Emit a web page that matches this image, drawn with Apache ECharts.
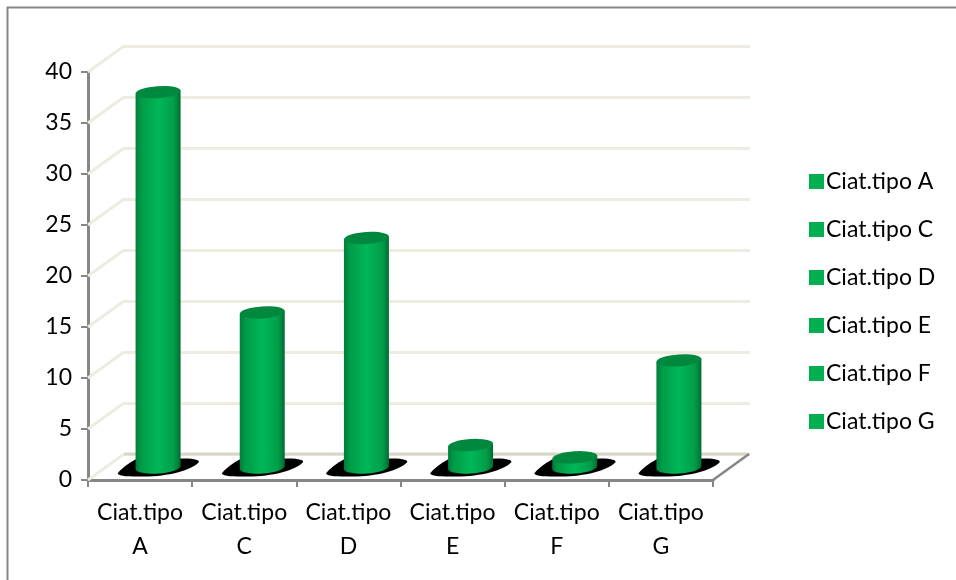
<!DOCTYPE html>
<html>
<head>
<meta charset="utf-8">
<style>html,body{margin:0;padding:0;background:#fff}#chart{width:956px;height:580px}</style>
<script src="https://cdn.jsdelivr.net/npm/echarts@6/dist/echarts.min.js"></script>
</head>
<body>
<div id="chart"></div>
<script>
// Percentages per type of ciathus
const categories = ['Ciat.tipo A', 'Ciat.tipo C', 'Ciat.tipo D', 'Ciat.tipo E', 'Ciat.tipo F', 'Ciat.tipo G'];
const axisLabels = ['Ciat.tipo\nA', 'Ciat.tipo\nC', 'Ciat.tipo\nD', 'Ciat.tipo\nE', 'Ciat.tipo\nF', 'Ciat.tipo\nG'];
const values = [36.8, 15.2, 22.5, 2.2, 1.0, 10.5];
const yTicks = [0, 5, 10, 15, 20, 25, 30, 35, 40];

// Pseudo-3D box: the back wall sits up and to the right of the front axes
const DEPTH_X = 36, DEPTH_Y = -26;
const FONT = 'Lato';
const AXIS_GREY = '#868686', WALL = '#eeece1', GREEN = '#00b050';

function renderWallEdge(params, api) {
  const p = api.coord([0, api.value(0)]);
  const left = params.coordSys.x;
  return {
    type: 'line', silent: true,
    shape: { x1: left, y1: p[1], x2: left + DEPTH_X, y2: p[1] + DEPTH_Y },
    style: { stroke: WALL, lineWidth: 3 }
  };
}

function renderFloor(params, api) {
  const r = params.coordSys;
  const y = r.y + r.height;
  return {
    type: 'group', silent: true,
    children: [
      { type: 'line', shape: { x1: r.x + DEPTH_X, y1: y + DEPTH_Y, x2: r.x + r.width + DEPTH_X, y2: y + DEPTH_Y },
        style: { stroke: '#d8d5c8', lineWidth: 3 } },
      { type: 'line', shape: { x1: r.x + r.width, y1: y, x2: r.x + r.width + DEPTH_X, y2: y + DEPTH_Y },
        style: { stroke: AXIS_GREY, lineWidth: 2.5 } }
    ]
  };
}

function renderCylinder(params, api) {
  const cat = api.value(0), val = api.value(1);
  const base = api.coord([cat, 0]);
  const top = api.coord([cat, val]);
  const band = api.size([1, 0])[0];
  const cx = base[0] + DEPTH_X / 2;
  const by = base[1] + DEPTH_Y / 2 + 0.5;
  const ty = top[1] + DEPTH_Y / 2 + 0.5;
  const r = band * 0.216, ry = 6, tilt = r * 0.07;
  const body = `M${cx - r} ${ty + tilt} L${cx - r} ${by + tilt} A${r} ${ry} -4 0 0 ${cx + r} ${by - tilt} L${cx + r} ${ty - tilt} Z`;
  const cap = `M${cx - r} ${ty + tilt} A${r} ${ry} -4 0 1 ${cx + r} ${ty - tilt} A${r} ${ry} -4 0 1 ${cx - r} ${ty + tilt} Z`;
  const s = r * 1.8;
  const shadow = `M${cx - s} ${by + 6}
    C${cx - s + 6} ${by - 2} ${cx - s + 18} ${by - 8} ${cx - r} ${by - 8}
    L${cx + s - 14} ${by - 9}
    C${cx + s - 4} ${by - 9} ${cx + s + 2} ${by - 7} ${cx + s} ${by - 5}
    C${cx + s - 8} ${by + 3} ${cx + 10} ${by + 9} ${cx - 14} ${by + 9}
    C${cx - 30} ${by + 9} ${cx - s + 2} ${by + 9} ${cx - s} ${by + 6} Z`;
  const barFill = new echarts.graphic.LinearGradient(0, 0, 1, 0, [
    { offset: 0, color: '#007c3a' },
    { offset: 0.12, color: '#009a47' },
    { offset: 0.5, color: '#00b757' },
    { offset: 0.85, color: '#009e49' },
    { offset: 1, color: '#006c33' }
  ]);
  return {
    type: 'group', silent: true,
    children: [
      { type: 'path', shape: { pathData: shadow }, style: { fill: '#000' } },
      { type: 'path', shape: { pathData: body }, style: { fill: barFill } },
      { type: 'path', shape: { pathData: cap }, style: { fill: '#00893e' } }
    ]
  };
}

const cylinderSeries = categories.map((name, i) => ({
  name,
  type: 'custom',
  xAxisIndex: 0, yAxisIndex: 0,
  z: 5,
  itemStyle: { color: GREEN },
  renderItem: renderCylinder,
  encode: { x: 0, y: 1 },
  data: [[i, values[i]]]
}));

const chart = echarts.init(document.getElementById('chart'), null, { renderer: 'canvas' });
chart.setOption({
  animation: false,
  backgroundColor: '#fff',
  textStyle: { fontFamily: FONT },
  graphic: [{
    type: 'polyline', silent: true,
    shape: { points: [[7.5, 580], [7.5, 7.5], [956, 7.5]] },
    style: { stroke: AXIS_GREY, lineWidth: 2, fill: null }
  }],
  legend: {
    orient: 'vertical',
    left: 804, top: 163,
    itemWidth: 15, itemHeight: 15, itemGap: 21,
    icon: 'rect',
    selectedMode: false,
    data: categories,
    textStyle: { fontFamily: FONT, fontSize: 23, color: '#000', padding: [0, 0, 0, -3] , lineHeight: 27}
  },
  grid: [
    { left: 88, top: 72, width: 625, height: 408 },
    { left: 88 + DEPTH_X, top: 72 + DEPTH_Y, width: 626, height: 408 }
  ],
  xAxis: [
    {
      type: 'category', gridIndex: 0, data: axisLabels,
      axisLine: { lineStyle: { color: AXIS_GREY, width: 3 } },
      axisTick: { show: true, length: 7, alignWithLabel: false, lineStyle: { color: AXIS_GREY, width: 2 } },
      axisLabel: { fontFamily: FONT, fontSize: 23, color: '#000', lineHeight: 34, margin: 16, interval: 0 }
    },
    { type: 'category', gridIndex: 1, data: axisLabels, show: false }
  ],
  yAxis: [
    {
      type: 'value', gridIndex: 0, min: 0, max: 40, interval: 5,
      axisLine: { show: true, lineStyle: { color: AXIS_GREY, width: 3 } },
      axisTick: { show: true, length: 7, lineStyle: { color: AXIS_GREY, width: 2 } },
      axisLabel: { fontFamily: FONT, fontSize: 23, color: '#000', margin: 16 },
      splitLine: { show: false }
    },
    {
      type: 'value', gridIndex: 1, min: 0, max: 40, interval: 5,
      axisLine: { show: false }, axisTick: { show: false }, axisLabel: { show: false },
      splitLine: { show: true, lineStyle: { color: WALL, width: 3 } }
    }
  ],
  series: [
    { type: 'custom', name: 'wall edges', xAxisIndex: 0, yAxisIndex: 0, z: 1, silent: true,
      renderItem: renderWallEdge, encode: { y: 0 }, data: yTicks.map(v => [v]) },
    { type: 'custom', name: 'floor', xAxisIndex: 0, yAxisIndex: 0, z: 2, silent: true,
      renderItem: renderFloor, data: [[0]] },
    ...cylinderSeries
  ]
});
</script>
</body>
</html>
